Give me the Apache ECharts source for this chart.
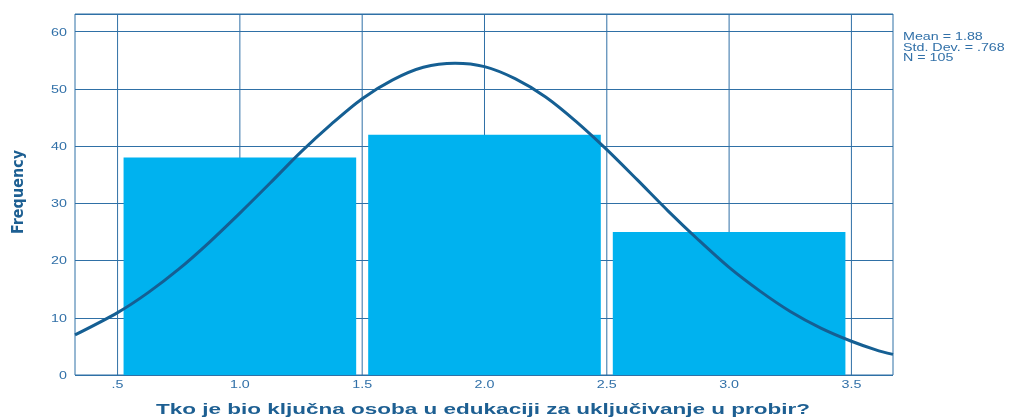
<!DOCTYPE html>
<html>
<head>
<meta charset="utf-8">
<script src="https://cdn.jsdelivr.net/npm/echarts@6/dist/echarts.min.js"></script>
<style>html,body{margin:0;padding:0;background:#fff;}#c{width:1014px;height:419px;}</style>
</head>
<body>
<div id="c"></div>
<script>
// Histogram bins and counts
const binStarts = [0.5, 1.5, 2.5];
const binEnds = [1.5, 2.5, 3.5];
const counts = [38, 42, 25];
// Normal curve points
const curveX = [0.326, 0.5, 0.625, 0.75, 0.875, 1.0, 1.125, 1.25, 1.375, 1.5, 1.625, 1.75, 1.88, 2.0, 2.125, 2.25, 2.375, 2.5, 2.625, 2.75, 2.875, 3.0, 3.125, 3.25, 3.375, 3.5, 3.6, 3.67];
const curveY = [7.0, 10.9, 14.4, 18.5, 23.2, 28.3, 33.6, 39.0, 43.9, 48.3, 51.6, 53.8, 54.5, 53.9, 51.8, 48.6, 44.3, 39.4, 34.1, 28.7, 23.6, 18.8, 14.7, 11.1, 8.2, 5.9, 4.4, 3.6];
// Tick positions and labels
const xTickValues = [0.5, 1.0, 1.5, 2.0, 2.5, 3.0, 3.5];
const xTickLabels = [".5", "1.0", "1.5", "2.0", "2.5", "3.0", "3.5"];
const yTickValues = [0, 10, 20, 30, 40, 50, 60];
const yTickLabels = ["0", "10", "20", "30", "40", "50", "60"];
const statsLines = ["Mean = 1.88", "Std. Dev. = .768", "N = 105"];
const xTitle = "Tko je bio ključna osoba u edukaciji za uključivanje u probir?";
const yTitle = "Frequency";

const X_MIN = 0.326, X_MAX = 3.67, Y_MAX = 63.1;
const gridColor = '#2f70a6';
const textColor = '#3170a8';
const titleColor = '#1d5f92';
const stretch = 1.36;
const chart = echarts.init(document.getElementById('c'));
const font = 'Liberation Sans, Arial, sans-serif';

chart.setOption({
  animation: false,
  grid: {left: 75, right: 121, top: 14, bottom: 44, show: true, borderColor: gridColor, borderWidth: 1, backgroundColor: 'transparent'},
  xAxis: {
    type: 'value', min: X_MIN, max: X_MAX,
    axisLine: {show: false}, axisTick: {show: false}, axisLabel: {show: false}, splitLine: {show: false}
  },
  yAxis: {
    type: 'value', min: 0, max: Y_MAX, interval: 10,
    axisLine: {show: false}, axisTick: {show: false},
    axisLabel: {show: false},
    splitLine: {show: true, lineStyle: {color: gridColor, width: 1}}
  },
  graphic: [
    {type: 'text', x: 903, y: 32, scaleX: stretch, style: {text: statsLines.join('\n'), fill: textColor, font: '10.5px ' + font, lineHeight: 10.5}},
    {type: 'text', x: 483, y: 410, scaleX: 1.5, style: {text: xTitle, fill: titleColor, font: 'bold 15px ' + font, textAlign: 'center', textVerticalAlign: 'middle'}},
    {type: 'text', x: 19, y: 192, rotation: Math.PI / 2, style: {text: yTitle, fill: titleColor, font: 'bold 16px "Liberation Sans Narrow", "DejaVu Sans Condensed", sans-serif', textAlign: 'center', textVerticalAlign: 'middle'}}
  ],
  series: [
    {
      type: 'custom', z: 1, silent: true,
      data: xTickValues.map((v, i) => [v, i]),
      renderItem: function (params, api) {
        const v = api.value(0);
        const top = api.coord([v, Y_MAX]);
        const bot = api.coord([v, 0]);
        return {
          type: 'group', children: [
            {type: 'line', shape: {x1: top[0], y1: top[1], x2: bot[0], y2: bot[1]}, style: {stroke: gridColor, lineWidth: 1}},
            {type: 'text', x: bot[0], y: bot[1] + 10, scaleX: stretch, style: {text: xTickLabels[api.value(2 - 1)], fill: textColor, font: '10.5px ' + font, textAlign: 'center', textVerticalAlign: 'middle'}}
          ]
        };
      }
    },
    {
      type: 'custom', z: 1, silent: true,
      data: yTickValues.map((v, i) => [X_MIN, v, i]),
      renderItem: function (params, api) {
        const p = api.coord([api.value(0), api.value(1)]);
        return {type: 'text', x: p[0] - 8, y: p[1] + 1, scaleX: stretch, style: {text: yTickLabels[api.value(2)], fill: textColor, font: '10.5px ' + font, textAlign: 'right', textVerticalAlign: 'middle'}};
      }
    },
    {
      type: 'custom', z: 2, silent: true,
      data: counts.map((c, i) => [binStarts[i], binEnds[i], c]),
      renderItem: function (params, api) {
        const p0 = api.coord([api.value(0), api.value(2)]);
        const p1 = api.coord([api.value(1), 0]);
        return {type: 'rect', shape: {x: p0[0] + 6, y: p0[1], width: p1[0] - p0[0] - 12, height: p1[1] - p0[1]}, style: {fill: '#00b2ef'}};
      }
    },
    {
      type: 'line', z: 3, smooth: 0.3, showSymbol: false, silent: true,
      data: curveX.map((x, i) => [x, curveY[i]]),
      lineStyle: {color: '#155f93', width: 3}
    }
  ]
});
</script>
</body>
</html>
